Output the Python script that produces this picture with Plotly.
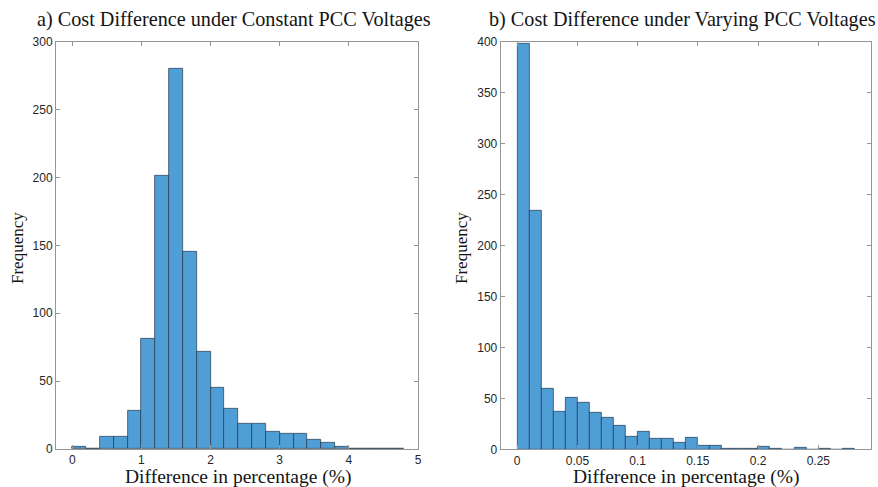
import plotly.graph_objects as go

# ---------------- data ----------------
# Left: bin width 0.2 from 0 to 4.8
left_bin_edges_start = [0.0, 0.2, 0.4, 0.6, 0.8, 1.0, 1.2, 1.4, 1.6, 1.8, 2.0, 2.2,
                        2.4, 2.6, 2.8, 3.0, 3.2, 3.4, 3.6, 3.8, 4.0, 4.2, 4.4, 4.6]
left_counts = [2, 0, 9, 9, 28, 81, 201, 280, 145, 72, 45, 30,
               19, 19, 13, 11, 11, 7, 5, 2, 0, 0, 0, 0]
left_bin_width = 0.2

# Right: bin width 0.01 from 0 to 0.28
right_bin_edges_start = [0.00, 0.01, 0.02, 0.03, 0.04, 0.05, 0.06, 0.07, 0.08, 0.09,
                         0.10, 0.11, 0.12, 0.13, 0.14, 0.15, 0.16, 0.17, 0.18, 0.19,
                         0.20, 0.21, 0.22, 0.23, 0.24, 0.25, 0.26, 0.27]
right_counts = [398, 234, 59, 37, 51, 46, 36, 31, 23, 12,
                17, 10, 10, 6, 11, 4, 4, 1, 1, 1,
                3, 1, 0, 2, 0, 1, 0, 1]
right_bin_width = 0.01

left_xticks = [0, 1, 2, 3, 4, 5]
left_yticks = [0, 50, 100, 150, 200, 250, 300]
right_xticks = [0, 0.05, 0.1, 0.15, 0.2, 0.25]
right_xticklabels = ["0", "0.05", "0.1", "0.15", "0.2", "0.25"]
right_yticks = [0, 50, 100, 150, 200, 250, 300, 350, 400]

title_a = "a) Cost Difference under Constant PCC Voltages"
title_b = "b) Cost Difference under Varying PCC Voltages"
xlabel = "Difference in percentage (%)"
ylabel = "Frequency"

# ---------------- styling ----------------
W, H = 878, 487
bar_color = "rgb(80,158,214)"
edge_color = "rgb(35,55,75)"
axis_color = "rgb(150,150,150)"
serif = "Liberation Serif, DejaVu Serif, serif"
sans = "Liberation Sans, Arial, sans-serif"

def px_x(p):
    return p / W

def px_y(p):
    return 1 - p / H

fig = go.Figure()

fig.add_trace(go.Bar(
    x=[s + left_bin_width / 2 for s in left_bin_edges_start],
    y=left_counts,
    width=[left_bin_width] * len(left_counts),
    marker=dict(color=bar_color, line=dict(color=edge_color, width=0.7)),
    xaxis="x", yaxis="y", showlegend=False,
))
fig.add_trace(go.Bar(
    x=[s + right_bin_width / 2 for s in right_bin_edges_start],
    y=right_counts,
    width=[right_bin_width] * len(right_counts),
    marker=dict(color=bar_color, line=dict(color=edge_color, width=0.7)),
    xaxis="x2", yaxis="y2", showlegend=False,
))

common_axis = dict(
    showline=True, linecolor=axis_color, linewidth=1, mirror="ticks",
    ticks="inside", ticklen=4, tickcolor=axis_color, tickwidth=1,
    showgrid=False, zeroline=False, automargin=False,
    tickfont=dict(family=sans, size=12, color="rgb(38,38,38)"),
)

fig.update_layout(
    width=W, height=H, autosize=False,
    margin=dict(l=0, r=0, t=0, b=0, pad=0, autoexpand=False),
    paper_bgcolor="white", plot_bgcolor="white",
    bargap=0,
    xaxis=dict(domain=[px_x(56), px_x(418)], range=[-0.235, 5.0],
               tickvals=left_xticks, anchor="y", **common_axis),
    yaxis=dict(domain=[px_y(449), px_y(41.7)], range=[0, 300],
               tickvals=left_yticks, anchor="x", **common_axis),
    xaxis2=dict(domain=[px_x(500.7), px_x(870.7)], range=[-0.0137, 0.2935],
                tickvals=right_xticks, ticktext=right_xticklabels,
                anchor="y2", **common_axis),
    yaxis2=dict(domain=[px_y(449.3), px_y(41.7)], range=[0, 400],
                tickvals=right_yticks, anchor="x2", **common_axis),
)

ann = []
def add_text(text, x, y, size, angle=0):
    ann.append(dict(text=text, x=px_x(x), y=px_y(y), xref="paper", yref="paper",
                    xanchor="center", yanchor="middle", showarrow=False,
                    textangle=angle, font=dict(family=serif, size=size, color="rgb(20,20,20)")))

add_text(title_a, 233.5, 20, 20.2)
add_text(title_b, 682, 20, 20.2)
add_text(ylabel, 17, 248, 17, -90)
add_text(ylabel, 461, 248, 17, -90)
add_text(xlabel, 238, 477, 19.5)
add_text(xlabel, 686, 477, 19.5)
fig.update_layout(annotations=ann)

fig.write_html("out.html",
               config={"displayModeBar": False},
               post_script="document.body.style.margin='0';document.body.style.padding='0';")
